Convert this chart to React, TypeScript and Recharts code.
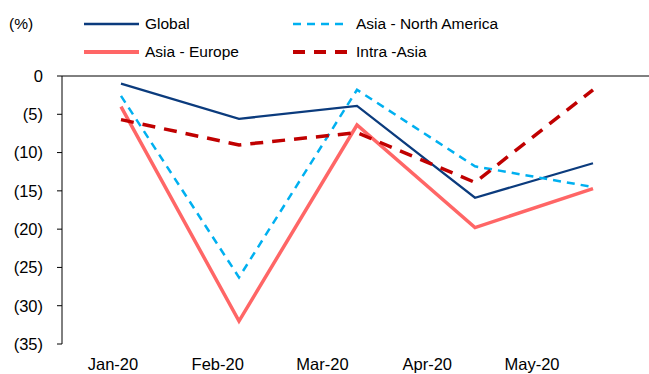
import { LineChart, Line, XAxis, YAxis, ReferenceLine } from "recharts";

const months = ["Jan-20", "Feb-20", "Mar-20", "Apr-20", "May-20"];
const globalVals = [-1.0, -5.6, -3.9, -15.9, -11.4];
const asiaNorthAmerica = [-2.6, -26.3, -1.8, -11.8, -14.5];
const asiaEurope = [-4.0, -32.0, -6.4, -19.8, -14.7];
const intraAsia = [-5.7, -9.0, -7.4, -13.9, -1.8];
const yTicks = [0, -5, -10, -15, -20, -25, -30, -35];
const boundaryTicks = [1, 2, 3, 4, 5];

const data = months.map((m, i) => ({
  month: m,
  global: globalVals[i],
  na: asiaNorthAmerica[i],
  europe: asiaEurope[i],
  intra: intraAsia[i],
}));

const FONT = "'Liberation Sans', Arial, sans-serif";

const legendItems = [
  { label: "Global", color: "#0b3b7d", width: 2.5, dash: undefined, x: 84, y: 24 },
  { label: "Asia - North America", color: "#00b0f0", width: 2.5, dash: "8 6", x: 293, y: 24 },
  { label: "Asia - Europe", color: "#ff6666", width: 4, dash: undefined, x: 84, y: 52 },
  { label: "Intra -Asia", color: "#c00000", width: 4, dash: "12 9", x: 293, y: 52 },
];

function LegendBox() {
  return (
    <svg width={649} height={70} style={{ position: "absolute", left: 0, top: 0 }}>
      <text x={9} y={24} dy="0.35em" fontSize={15.5} fontFamily={FONT} fill="#000">
        (%)
      </text>
      {legendItems.map((it) => (
        <g key={it.label}>
          <line
            x1={it.x}
            x2={it.x + 55}
            y1={it.y}
            y2={it.y}
            stroke={it.color}
            strokeWidth={it.width}
            strokeDasharray={it.dash}
          />
          <text
            x={it.x + (it.dash ? 63 : 61)}
            y={it.y}
            dy="0.35em"
            fontSize={15.5}
            fontFamily={FONT}
            fill="#000"
          >
            {it.label}
          </text>
        </g>
      ))}
    </svg>
  );
}

// small tick marks hanging down from the zero line at category boundaries
function BoundaryTick(props: any) {
  const { x, y } = props;
  return <line x1={x} x2={x} y1={y} y2={y + 6} stroke="#000" strokeWidth={1} />;
}

export default function App() {
  return (
    <div style={{ position: "absolute", left: 0, top: 0, width: 649, height: 374, background: "#fff" }}>
      <LineChart
        width={649}
        height={374}
        data={data}
        margin={{ top: 76, right: 0, bottom: 0, left: 0 }}
      >
        {/* hidden axis that places the points */}
        <XAxis xAxisId="pts" dataKey="month" scale="point" padding={{ left: 59, right: 56 }} hide />
        {/* visible month labels, offset like the original */}
        <XAxis
          xAxisId="lab"
          dataKey="month"
          scale="point"
          padding={{ left: 51, right: 117 }}
          height={30}
          axisLine={false}
          tickLine={false}
          tickSize={0}
          tickMargin={14}
          interval={0}
          tick={{ fill: "#000", fontSize: 16.5, fontFamily: FONT }}
        />
        {/* boundary ticks along the zero line */}
        <XAxis
          xAxisId="top"
          orientation="top"
          type="number"
          domain={[0, 5]}
          ticks={boundaryTicks}
          interval={0}
          height={0}
          axisLine={false}
          tickLine={false}
          tickSize={0}
          tickMargin={0}
          tick={<BoundaryTick />}
        />
        <YAxis
          width={62}
          domain={[-35, 0]}
          ticks={yTicks}
          interval={0}
          tickSize={5}
          tickMargin={14}
          axisLine={{ stroke: "#000", strokeWidth: 1 }}
          tickLine={{ stroke: "#000", strokeWidth: 1 }}
          tickFormatter={(v: number) => (v === 0 ? "0" : `(${-v})`)}
          tick={{ fill: "#000", fontSize: 16.5, fontFamily: FONT }}
        />
        <ReferenceLine xAxisId="pts" y={0} stroke="#000" strokeWidth={1} />
        <Line
          xAxisId="pts"
          dataKey="europe"
          stroke="#ff6666"
          strokeWidth={3.5}
          dot={false}
          isAnimationActive={false}
        />
        <Line
          xAxisId="pts"
          dataKey="global"
          stroke="#0b3b7d"
          strokeWidth={2.25}
          dot={false}
          isAnimationActive={false}
        />
        <Line
          xAxisId="pts"
          dataKey="na"
          stroke="#00b0f0"
          strokeWidth={2.5}
          strokeDasharray="8 6"
          dot={false}
          isAnimationActive={false}
        />
        <Line
          xAxisId="pts"
          dataKey="intra"
          stroke="#c00000"
          strokeWidth={3.5}
          strokeDasharray="13 9"
          dot={false}
          isAnimationActive={false}
        />
      </LineChart>
      <LegendBox />
    </div>
  );
}
